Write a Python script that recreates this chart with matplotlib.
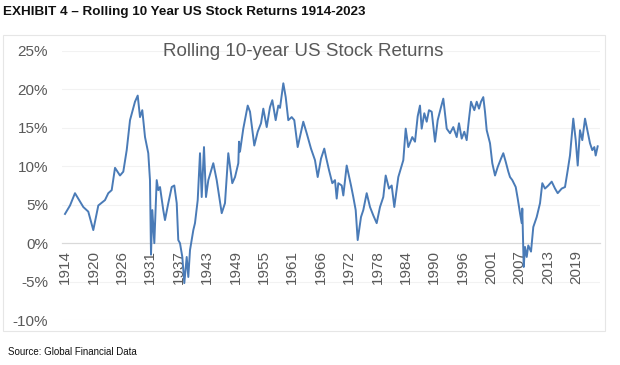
import matplotlib
matplotlib.use("Agg")
import matplotlib.pyplot as plt
from matplotlib.patches import Rectangle

# ---- data ----
years = [1914.0, 1915.03, 1916.05, 1917.76, 1918.78, 1919.81, 1920.84, 1922.21, 1922.89, 1923.59,
         1924.27, 1925.29, 1925.97, 1926.67, 1927.35, 1928.37, 1928.93, 1929.40, 1929.87, 1930.43,
         1931.10, 1931.45, 1931.66, 1931.93, 1932.34, 1932.83, 1933.16, 1933.51, 1934.18, 1934.53,
         1935.21, 1935.91, 1936.44, 1936.94, 1937.26, 1937.61, 1938.09, 1938.50, 1938.99, 1939.32,
         1939.67, 1940.35, 1940.69, 1941.25, 1941.72, 1942.07, 1942.54, 1942.95, 1943.43, 1944.45,
         1945.15, 1946.18, 1946.85, 1947.53, 1948.35, 1948.91, 1949.59, 1949.73, 1949.93, 1950.61,
         1951.52, 1951.99, 1952.87, 1953.57, 1954.25, 1954.72, 1955.42, 1956.09, 1956.57, 1957.26,
         1957.80, 1958.15, 1958.83, 1959.32, 1959.85, 1960.55, 1961.08, 1961.78, 1962.93, 1963.63,
         1964.51, 1965.33, 1965.89, 1966.57, 1967.24, 1967.60, 1968.21, 1968.89, 1969.44, 1969.79,
         1970.12, 1970.82, 1971.15, 1971.84, 1972.73, 1973.20, 1973.69, 1974.10, 1974.78, 1975.25,
         1975.95, 1976.63, 1977.31, 1978.00, 1978.68, 1979.36, 1979.85, 1980.53, 1981.08, 1981.62,
         1982.44, 1983.47, 1983.96, 1984.49, 1985.31, 1985.87, 1986.42, 1986.89, 1987.24, 1987.78,
         1988.27, 1988.74, 1989.30, 1989.98, 1990.53, 1991.21, 1991.68, 1992.38, 1993.06, 1993.73,
         1994.43, 1994.90, 1995.46, 1995.99, 1996.48, 1996.96, 1997.37, 1998.05, 1998.54, 1999.01,
         1999.42, 1999.89, 2000.24, 2000.59, 2001.27, 2001.74, 2002.30, 2002.85, 2003.53, 2004.00,
         2004.49, 2005.03, 2005.38, 2005.85, 2006.55, 2006.96, 2007.43, 2007.78, 2007.90, 2008.19,
         2008.46, 2008.81, 2009.13, 2009.69, 2010.16, 2010.86, 2011.54, 2012.01, 2012.56, 2013.24,
         2013.94, 2014.62, 2015.17, 2015.99, 2016.67, 2017.23, 2017.69, 2018.37, 2018.87, 2019.28,
         2019.75, 2020.22, 2020.78, 2021.33, 2021.80, 2022.27, 2022.69, 2022.97, 2023.38]

returns = [3.8, 4.9, 6.5, 4.7, 4.1, 1.7, 4.9, 5.6, 6.5, 6.9,
           9.8, 8.8, 9.3, 12.1, 16.0, 18.4, 19.2, 16.4, 17.3, 13.8,
           11.7, 8.2, -1.5, 4.3, 0.0, 8.2, 6.9, 7.3, 4.3, 3.0,
           5.2, 7.3, 7.5, 5.2, 0.4, 0.0, -1.8, -5.2, -1.8, -4.4,
           -0.9, 1.7, 2.6, 5.6, 11.7, 6.0, 12.5, 6.0, 8.2, 10.4,
           8.2, 3.9, 5.2, 11.7, 7.8, 8.6, 10.4, 13.2, 11.9, 14.9,
           17.9, 17.1, 12.7, 14.5, 15.6, 17.5, 15.1, 17.7, 18.6, 16.0,
           17.9, 17.6, 20.8, 19.0, 16.0, 16.4, 16.0, 12.5, 15.8, 14.3,
           12.3, 10.8, 8.6, 11.0, 12.3, 11.2, 9.5, 7.8, 8.2, 5.8,
           7.8, 7.5, 6.2, 10.1, 7.5, 6.0, 4.3, 0.4, 3.4, 4.3,
           6.5, 4.7, 3.6, 2.6, 4.7, 6.0, 8.8, 7.1, 7.5, 4.7,
           8.6, 10.8, 14.9, 12.5, 13.8, 13.2, 16.5, 17.9, 14.9, 16.9,
           15.8, 17.3, 17.1, 13.2, 16.0, 17.7, 18.8, 14.9, 14.3, 15.1,
           13.8, 15.6, 13.6, 14.5, 13.4, 16.2, 18.4, 17.3, 18.4, 17.5,
           18.4, 19.0, 17.1, 14.7, 13.0, 10.4, 8.8, 9.9, 11.0, 11.7,
           10.6, 9.3, 8.6, 8.2, 7.3, 5.8, 3.9, 2.6, 4.5, -3.1,
           -0.5, -1.8, -0.3, -1.1, 2.1, 3.4, 5.2, 7.8, 7.1, 7.5,
           8.0, 7.1, 6.5, 7.1, 7.3, 9.5, 11.4, 16.2, 13.4, 10.1,
           14.7, 13.4, 16.2, 14.5, 13.0, 12.1, 12.5, 11.4, 12.6]

x_labels = ["1914", "1920", "1926", "1931", "1937", "1943", "1949", "1955", "1961", "1966",
            "1972", "1978", "1984", "1990", "1996", "2001", "2007", "2013", "2019"]
y_ticks = [-10, -5, 0, 5, 10, 15, 20, 25]

header = "EXHIBIT 4 \u2013 Rolling 10 Year US Stock Returns 1914-2023"
chart_title = "Rolling 10-year US Stock Returns"
source = "Source: Global Financial Data"

# ---- figure ----
W, H = 620, 365
fig = plt.figure(figsize=(W / 100, H / 100), dpi=100)
fig.patch.set_facecolor("white")

# chart area frame
fig.patches.append(Rectangle((3 / W, 1 - 331 / H), 602 / W, 296 / H, transform=fig.transFigure,
                             fill=False, edgecolor="#e6e6e6", linewidth=0.8))

ax_l, ax_r, ax_t, ax_b = 62, 600, 51, 320
ax = fig.add_axes([ax_l / W, 1 - ax_b / H, (ax_r - ax_l) / W, (ax_b - ax_t) / H])
ax.set_facecolor("none")

px_per_year = 4.87
x0 = 1914 - (65 - ax_l) / px_per_year
x1 = 1914 + (ax_r - 65) / px_per_year
ax.set_xlim(x0, x1)
ax.set_ylim(-10, 25)

for v in y_ticks:
    if v != 0:
        ax.axhline(v, color="#f2f2f2", linewidth=0.8, zorder=0)

ax.plot(years, returns, color="#4a7bb7", linewidth=1.4, zorder=3)

for s in ["top", "right", "left"]:
    ax.spines[s].set_visible(False)
ax.spines["bottom"].set_position(("data", 0))
ax.spines["bottom"].set_color("#d9d9d9")
ax.spines["bottom"].set_linewidth(0.9)
ax.spines["bottom"].set_zorder(1)

step = (2019 - 1914) / (len(x_labels) - 1)
xt = [1914 + i * step for i in range(len(x_labels))]
ax.set_xticks(xt)
ax.set_xticklabels(x_labels, rotation=90, fontsize=11, color="#595959", family="Liberation Sans")
ax.tick_params(axis="x", length=0, pad=5)

ax.set_yticks(y_ticks)
ax.set_yticklabels([f"{v}%" for v in y_ticks], fontsize=11, color="#595959", family="Liberation Sans")
ax.tick_params(axis="y", length=0, pad=17 - 7)

fig.text(303 / W, 1 - 51 / H, chart_title, ha="center", va="center", fontsize=13.5,
         color="#595959", family="Liberation Sans")
fig.text(3 / W, 1 - 12 / H, header, ha="left", va="center", fontsize=9.7,
         fontweight="bold", color="#111111", family="Liberation Sans")
fig.text(8 / W, 1 - 352 / H, source, ha="left", va="center", fontsize=7,
         color="#111111", family="Liberation Sans")

fig.savefig("out.png", dpi=100, facecolor="white")
